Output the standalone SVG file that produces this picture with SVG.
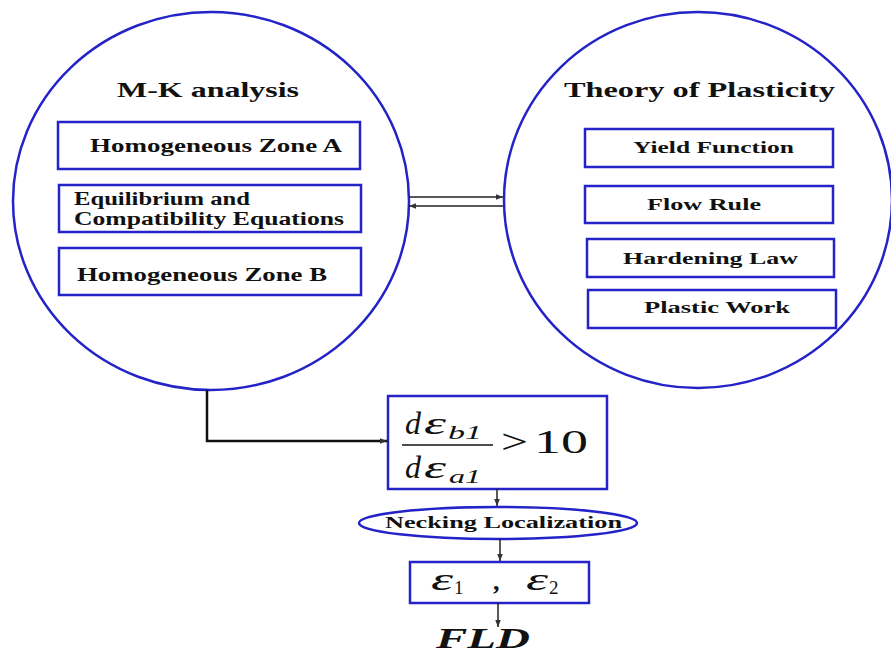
<svg xmlns="http://www.w3.org/2000/svg" width="891" height="653" viewBox="0 0 891 653">
<defs>
<marker id="ah" viewBox="0 0 10 10" refX="10" refY="5" markerWidth="9" markerHeight="7" markerUnits="userSpaceOnUse" orient="auto"><path d="M0,1 L10,5 L0,9 Z" fill="#333"/></marker>
</defs>
<style>
.ell{fill:none;stroke:#2323c8;stroke-width:2.5}
.box{fill:#fff;stroke:#2323c8;stroke-width:2.5}
.t{font-family:"Liberation Serif","Times New Roman",serif;font-weight:bold;fill:#111}
.m{font-family:"Liberation Serif","Times New Roman",serif;font-style:italic;fill:#111}
.n{font-family:"Liberation Serif","Times New Roman",serif;fill:#111}
.c{fill:none;stroke:#222;stroke-width:1.5}
.ck{fill:none;stroke:#111;stroke-width:2.5}
</style>
<rect width="891" height="653" fill="#fff"/>
<g id="mk">
<ellipse class="ell" cx="211" cy="201" rx="198" ry="189"/>
<text class="t" x="208" y="97" font-size="21" text-anchor="middle" textLength="182" lengthAdjust="spacingAndGlyphs">M-K analysis</text>
</g>
<g id="zoneA">
<rect class="box" x="58" y="122" width="302" height="47"/>
<text class="t" x="90" y="152" font-size="18" textLength="252" lengthAdjust="spacingAndGlyphs">Homogeneous Zone A</text>
</g>
<g id="equil">
<rect class="box" x="59" y="185" width="302" height="47"/>
<text class="t" x="74" y="205" font-size="18" textLength="176" lengthAdjust="spacingAndGlyphs">Equilibrium and</text>
<text class="t" x="74" y="225" font-size="18" textLength="270" lengthAdjust="spacingAndGlyphs">Compatibility Equations</text>
</g>
<g id="zoneB">
<rect class="box" x="59" y="248" width="302" height="47"/>
<text class="t" x="77" y="281" font-size="18" textLength="250" lengthAdjust="spacingAndGlyphs">Homogeneous Zone B</text>
</g>
<g id="plasticity">
<ellipse class="ell" cx="698" cy="200" rx="194" ry="188"/>
<text class="t" x="564" y="97" font-size="21" textLength="271" lengthAdjust="spacingAndGlyphs">Theory of Plasticity</text>
</g>
<g id="yield">
<rect class="box" x="585" y="129" width="248" height="38"/>
<text class="t" x="633" y="153" font-size="17" textLength="161" lengthAdjust="spacingAndGlyphs">Yield Function</text>
</g>
<g id="flow">
<rect class="box" x="585" y="186" width="248" height="37"/>
<text class="t" x="647" y="210" font-size="17" textLength="114" lengthAdjust="spacingAndGlyphs">Flow Rule</text>
</g>
<g id="hardening">
<rect class="box" x="587" y="239" width="247" height="38"/>
<text class="t" x="623" y="264" font-size="17" textLength="175" lengthAdjust="spacingAndGlyphs">Hardening Law</text>
</g>
<g id="work">
<rect class="box" x="588" y="290" width="248" height="38"/>
<text class="t" x="644" y="313" font-size="17" textLength="146" lengthAdjust="spacingAndGlyphs">Plastic Work</text>
</g>
<g id="criterion">
<rect class="box" x="388" y="396" width="219" height="93"/>
<text class="m" x="405" y="434" font-size="32">d</text>
<text class="m" x="424" y="434" font-size="32" textLength="22" lengthAdjust="spacingAndGlyphs">ε</text>
<text class="m" x="448" y="439" font-size="18" textLength="34" lengthAdjust="spacingAndGlyphs">b1</text>
<line x1="402" y1="445" x2="493" y2="445" stroke="#111" stroke-width="1.3"/>
<text class="m" x="405" y="478" font-size="32">d</text>
<text class="m" x="424" y="478" font-size="32" textLength="22" lengthAdjust="spacingAndGlyphs">ε</text>
<text class="m" x="449" y="483" font-size="18" textLength="32" lengthAdjust="spacingAndGlyphs">a1</text>
<text class="n" x="501" y="453" font-size="34" textLength="27" lengthAdjust="spacingAndGlyphs">&gt;</text>
<text class="n" x="534" y="453" font-size="34" textLength="54" lengthAdjust="spacingAndGlyphs">10</text>
</g>
<g id="necking">
<ellipse cx="498" cy="523" rx="139" ry="16" fill="#fff" stroke="#2323c8" stroke-width="2.5"/>
<text class="t" x="385" y="528" font-size="16" textLength="237" lengthAdjust="spacingAndGlyphs">Necking Localization</text>
</g>
<g id="strains">
<rect class="box" x="410" y="562" width="179" height="41"/>
<text class="m" x="431" y="590" font-size="32" textLength="22" lengthAdjust="spacingAndGlyphs">ε</text>
<text class="n" x="454" y="594" font-size="19">1</text>
<text class="t" x="493" y="590" font-size="26">,</text>
<text class="m" x="526" y="590" font-size="32" textLength="22" lengthAdjust="spacingAndGlyphs">ε</text>
<text class="n" x="549" y="594" font-size="19">2</text>
</g>
<g id="fld">
<text class="t" x="483" y="648" font-size="30" font-style="italic" text-anchor="middle" textLength="94" lengthAdjust="spacingAndGlyphs">FLD</text>
</g>
<g id="connectors">
<line class="c" x1="409" y1="197" x2="503" y2="197" marker-end="url(#ah)"/>
<line class="c" x1="503" y1="206" x2="409" y2="206" marker-end="url(#ah)"/>
<polyline class="ck" points="207,390 207,441 387,441" marker-end="url(#ah)"/>
<line class="c" x1="497" y1="489" x2="497" y2="506" marker-end="url(#ah)"/>
<line class="c" x1="500" y1="539" x2="500" y2="561" marker-end="url(#ah)"/>
<line class="c" x1="498" y1="603" x2="498" y2="627" marker-end="url(#ah)"/>
</g>
</svg>
